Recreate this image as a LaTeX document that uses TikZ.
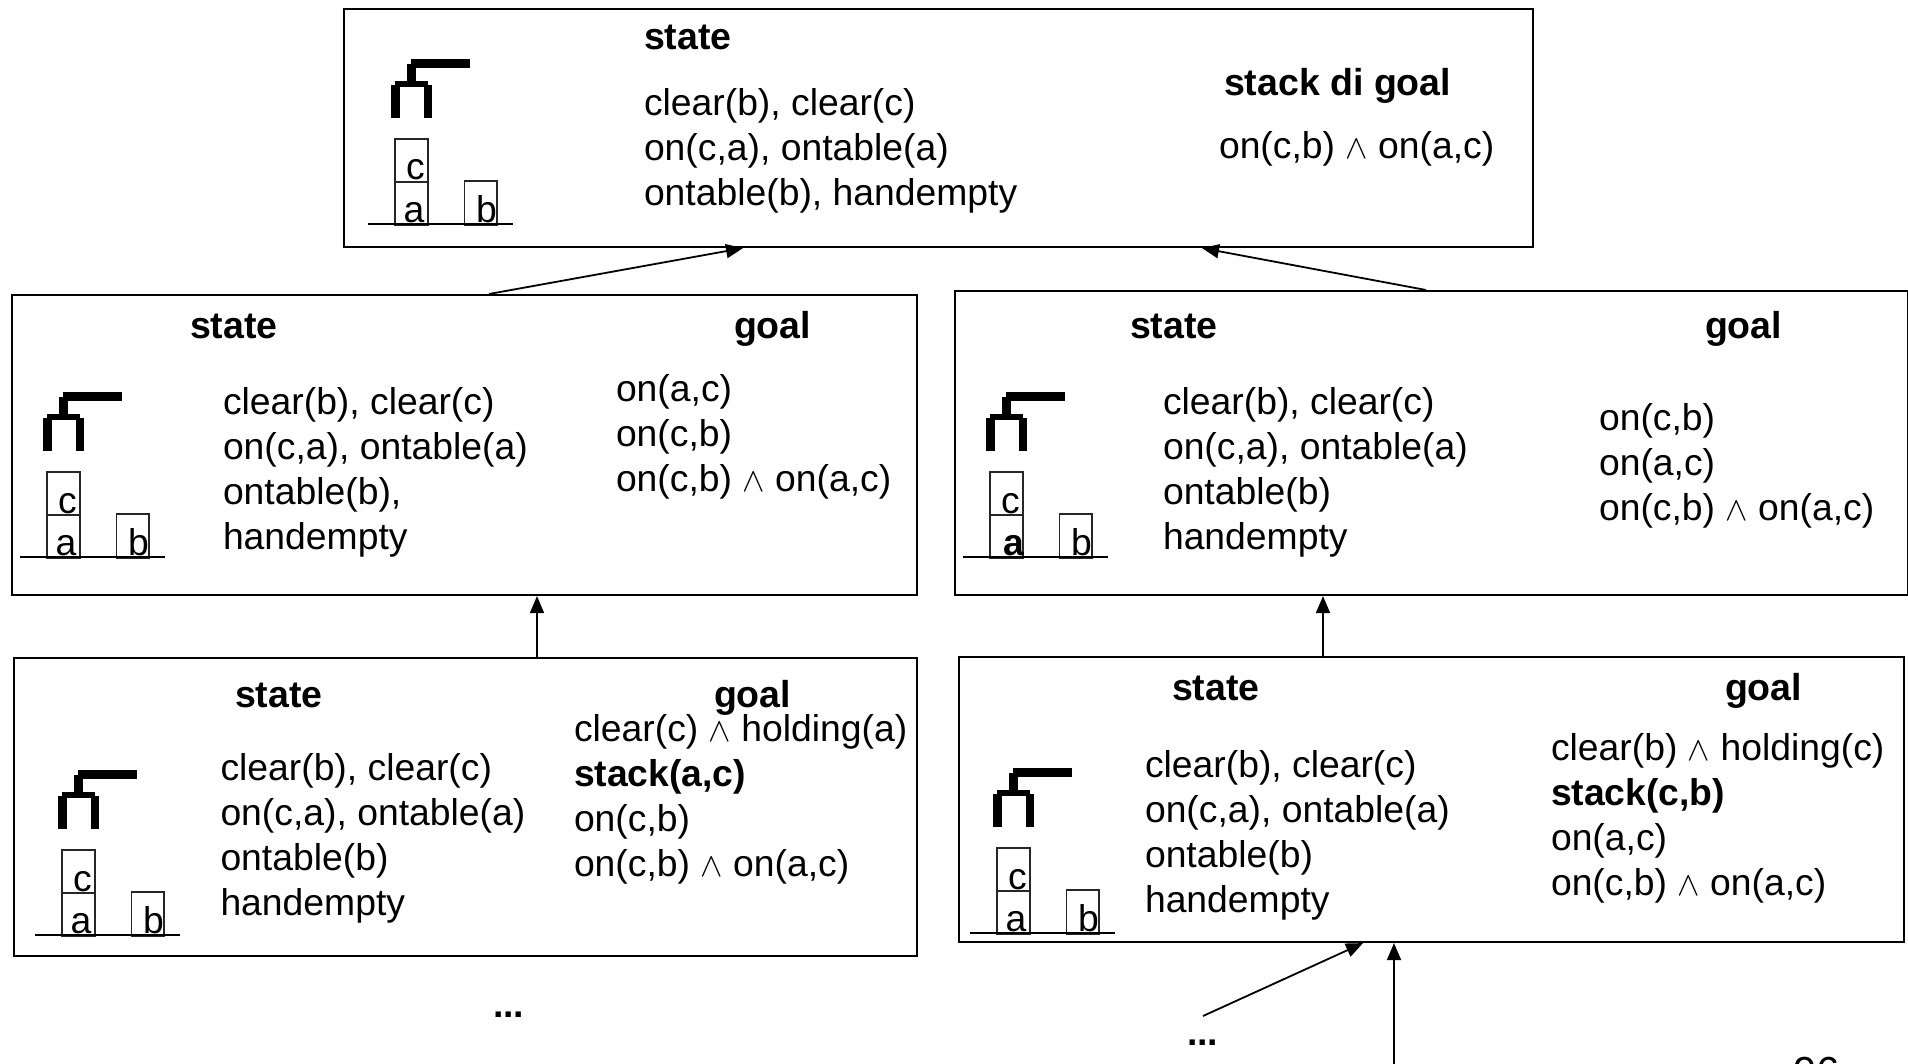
\documentclass[tikz,border=0pt]{standalone}
\usepackage{fontspec}
\setmainfont{Liberation Sans}
\usetikzlibrary{arrows.meta}
\newcommand{\andsym}{\scalebox{1.35}{$\wedge$}}
\newcommand{\tb}[4]{\node[tx] (#1) at (#2,#3-31.5) {\strut #4};}
\newcommand{\crane}[4]{%
  \begin{scope}[shift={(#1,#2)}]
    \fill[black] (43,-165) rectangle (102,-156);
    \fill[black] (39,-160) rectangle (48,-142);
    \fill[black] (27,-143) rectangle (60,-137);
    \fill[black] (23,-139) rectangle (31.5,-106);
    \fill[black] (55.5,-139) rectangle (63.5,-106);
    \draw[blk] (27,-85) rectangle (60,-42);
    \draw[blk] (27,-42) rectangle (60,1);
    \draw[blk] (96.5,-43) rectangle (129,1);
    \draw[tbl] (0,0) -- (145,0);
    \node[lbl] (#3c) at (47.5,-44) {c};
    \node[lbl] (#3a) at (46,-1.5) {#4 a};
    \node[lbl] (#3b) at (118.5,-1.5) {b};
  \end{scope}}
\tikzset{
  x=1pt,y=-1pt,
  boxn/.style={draw=black,line width=2.1pt,rectangle,inner sep=0pt,anchor=north west},
  tx/.style={anchor=north west,align=left,inner sep=0pt,outer sep=0pt,font=\fontsize{37.3}{45}\selectfont},
  hd/.style={anchor=base west,inner sep=0pt,outer sep=0pt,font=\fontsize{37.5}{45}\selectfont\bfseries},
  lbl/.style={anchor=base,inner sep=0pt,outer sep=0pt,font=\fontsize{37.3}{45}\selectfont},
  blk/.style={draw=black!85,line width=1.5pt},
  tbl/.style={draw=black,line width=2.3pt},
  conn/.style={draw=black,line width=1.8pt,-{Triangle[length=17pt,width=14pt]}},
}
\begin{document}
\begin{tikzpicture}
\useasboundingbox (0,0) rectangle (1908,1064);
\begin{scope}
\clip (0,0) rectangle (1908,1064);
\node[boxn,minimum width=1189pt,minimum height=238pt] (top) at (343,8) {};
\node[boxn,minimum width=905pt,minimum height=300pt] (ml) at (11,294) {};
\node[boxn,minimum width=953pt,minimum height=304pt] (mr) at (954,290) {};
\node[boxn,minimum width=903pt,minimum height=298pt] (bl) at (13,657) {};
\node[boxn,minimum width=945pt,minimum height=285pt] (br) at (958,656) {};

\crane{368}{224}{t}{}
\crane{20}{557}{m}{}
\crane{963}{557}{n}{\bfseries}
\crane{35}{935}{o}{}
\crane{970}{933}{p}{}

% top
\node[hd] (t1) at (644,50) {state};
\tb{t2}{644}{116}{clear(b), clear(c)\\on(c,a), ontable(a)\\ontable(b), handempty}
\node[hd] (t3) at (1224,96) {stack di goal};
\tb{t4}{1219}{159}{on(c,b) \andsym{} on(a,c)}
% mid left
\node[hd] (m1) at (190,338) {state};
\node[hd] (m2) at (734,338) {goal};
\tb{m3}{223}{414}{clear(b), clear(c)\\on(c,a), ontable(a)\\ontable(b),\\handempty}
\tb{m4}{616}{401}{on(a,c)\\on(c,b)\\on(c,b) \andsym{} on(a,c)}
% mid right
\node[hd] (n1) at (1130,338) {state};
\node[hd] (n2) at (1705,338) {goal};
\tb{n3}{1163}{414}{clear(b), clear(c)\\on(c,a), ontable(a)\\ontable(b)\\handempty}
\tb{n4}{1599}{430}{on(c,b)\\on(a,c)\\on(c,b) \andsym{} on(a,c)}
% bottom left
\node[hd] (o1) at (235,707) {state};
\node[hd] (o2) at (714,707) {goal};
\tb{o3}{220.5}{780}{clear(b), clear(c)\\on(c,a), ontable(a)\\ontable(b)\\handempty}
\tb{o4}{574}{741}{clear(c) \andsym{} holding(a)\\\textbf{stack(a,c)}\\on(c,b)\\on(c,b) \andsym{} on(a,c)}
% bottom right
\node[hd] (p1) at (1172,700) {state};
\node[hd] (p2) at (1725,700) {goal};
\tb{p3}{1145}{777}{clear(b), clear(c)\\on(c,a), ontable(a)\\ontable(b)\\handempty}
\tb{p4}{1551}{760}{clear(b) \andsym{} holding(c)\\\textbf{stack(c,b)}\\on(a,c)\\on(c,b) \andsym{} on(a,c)}
% dots
\node[hd] (d1) at (493,1017) {...};
\node[hd] (d2) at (1187,1045) {...};
\node[lbl,anchor=base west,font=\fontsize{42}{50}\selectfont] (pg) at (1793,1086) {96};
\coordinate (d2end) at (1203,1016);
\coordinate (fromb) at (1394,1064);
% connectors
\draw[conn] ([xshift=478pt]ml.north west) -- ([xshift=400pt]top.south west);
\draw[conn] ([xshift=472pt]mr.north west) -- (top.south west -| 1202,0);
\draw[conn] (bl.north west -| 537,0) -- (ml.south west -| 537,0);
\draw[conn] (br.north west -| 1323,0) -- (mr.south west -| 1323,0);
\draw[conn] (d2end) -- ([xshift=405pt]br.south west);
\draw[conn] (fromb) -- ([xshift=436pt]br.south west);
\end{scope}
\end{tikzpicture}
\end{document}
